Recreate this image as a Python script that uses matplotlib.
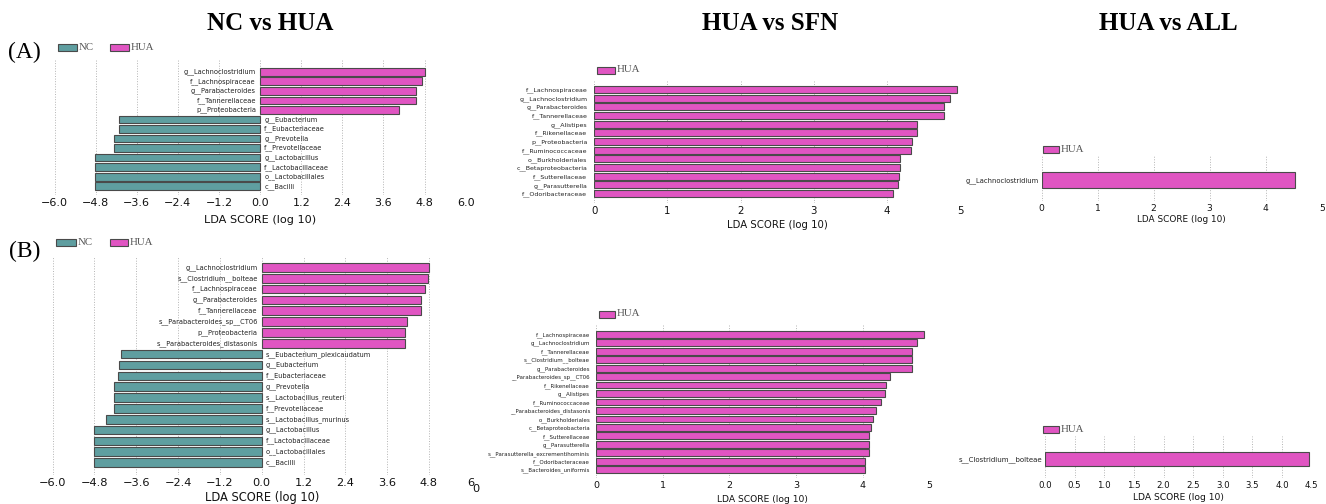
import matplotlib.pyplot as plt
from matplotlib.patches import Rectangle

W, H = 1326, 504
fig = plt.figure(figsize=(W / 100, H / 100), dpi=100)

NC_COLOR = '#5f9ea0'
HUA_COLOR = '#e055c2'
EDGE = '#4a4a4a'
SERIF = 'Liberation Serif'

# LEfSe results, listed top to bottom (negative = enriched in NC)
a_nc_hua_taxa = ['g__Lachnoclostridium', 'f__Lachnospiraceae', 'g__Parabacteroides',
                 'f__Tannerellaceae', 'p__Proteobacteria', 'g__Eubacterium',
                 'f__Eubacteriaceae', 'g__Prevotella', 'f__Prevotellaceae',
                 'g__Lactobacillus', 'f__Lactobacillaceae', 'o__Lactobacillales', 'c__Bacilli']
a_nc_hua_lda = [4.81, 4.72, 4.55, 4.55, 4.06, -4.13, -4.13, -4.25, -4.27,
                -4.81, -4.81, -4.83, -4.83]

a_hua_sfn_taxa = ['f__Lachnospiraceae', 'g__Lachnoclostridium', 'g__Parabacteroides',
                  'f__Tannerellaceae', 'g__Alistipes', 'f__Rikenellaceae',
                  'p__Proteobacteria', 'f__Ruminococcaceae', 'o__Burkholderiales',
                  'c__Betaproteobacteria', 'f__Sutterellaceae', 'g__Parasutterella',
                  'f__Odoribacteraceae']
a_hua_sfn_lda = [4.96, 4.87, 4.78, 4.78, 4.41, 4.41, 4.35, 4.33, 4.18, 4.18, 4.16, 4.15, 4.09]

a_hua_all_taxa = ['g__Lachnoclostridium']
a_hua_all_lda = [4.52]

b_nc_hua_taxa = ['g__Lachnoclostridium', 's__Clostridium__bolteae', 'f__Lachnospiraceae',
                 'g__Parabacteroides', 'f__Tannerellaceae', 's__Parabacteroides_sp__CT06',
                 'p__Proteobacteria', 's__Parabacteroides_distasonis',
                 's__Eubacterium_plexicaudatum', 'g__Eubacterium', 'f__Eubacteriaceae',
                 'g__Prevotella', 's__Lactobacillus_reuteri', 'f__Prevotellaceae',
                 's__Lactobacillus_murinus', 'g__Lactobacillus', 'f__Lactobacillaceae',
                 'o__Lactobacillales', 'c__Bacilli']
b_nc_hua_lda = [4.81, 4.76, 4.70, 4.56, 4.56, 4.17, 4.10, 4.10,
                -4.04, -4.10, -4.11, -4.23, -4.25, -4.25, -4.46, -4.80, -4.80, -4.81, -4.81]

b_hua_sfn_taxa = ['f__Lachnospiraceae', 'g__Lachnoclostridium', 'f__Tannerellaceae',
                  's__Clostridium__bolteae', 'g__Parabacteroides', '__Parabacteroides_sp__CT06',
                  'f__Rikenellaceae', 'g__Alistipes', 'f__Ruminococcaceae',
                  '__Parabacteroides_distasonis', 'o__Burkholderiales', 'c__Betaproteobacteria',
                  'f__Sutterellaceae', 'g__Parasutterella', 's__Parasutterella_excrementihominis',
                  'f__Odoribacteraceae', 's__Bacteroides_uniformis']
b_hua_sfn_lda = [4.92, 4.82, 4.74, 4.74, 4.74, 4.41, 4.35, 4.33, 4.27, 4.20,
                 4.15, 4.13, 4.10, 4.10, 4.09, 4.04, 4.03]

b_hua_all_taxa = ['s__Clostridium__bolteae']
b_hua_all_lda = [4.46]

ticks_two_sided = [-6.0, -4.8, -3.6, -2.4, -1.2, 0.0, 1.2, 2.4, 3.6, 4.8, 6.0]
ticks_int = [0, 1, 2, 3, 4, 5]
ticks_half = [0.0, 0.5, 1.0, 1.5, 2.0, 2.5, 3.0, 3.5, 4.0, 4.5]


def fx(px):
    return px / W


def fy(py):
    return 1 - py / H


def lda_panel(taxa, lda, x0, x1, top, bars, tick_y, xlim, ticks, labels,
              tick_fs, label_fs, xlabel_y, xlabel_fs, pad, two_sided=False):
    # x0/x1: pixel columns of xlim ends; bars: pixel rows of first bar top / last bar bottom
    pad_px = 2.0 * 100 / 72
    bottom = tick_y - pad_px - 0.55 * tick_fs * 100 / 72
    ax = fig.add_axes([fx(x0), fy(bottom), (x1 - x0) / W, (bottom - top) / H])
    n = len(taxa)
    step = (bars[1] - bars[0]) / n
    ypos = [n - 1 - i for i in range(n)]
    colors = [HUA_COLOR if v > 0 else NC_COLOR for v in lda]
    ax.barh(ypos, lda, height=0.8, color=colors, edgecolor=EDGE, linewidth=0.8, zorder=3)
    ax.set_ylim(-0.5 - (bottom - bars[1]) / step, n - 0.5 + (bars[0] - top) / step)
    ax.set_xlim(*xlim)
    ax.set_xticks(ticks)
    ax.set_xticklabels(labels, fontsize=tick_fs)
    for sp in ax.spines.values():
        sp.set_visible(False)
    ax.grid(axis='x', linestyle=':', color='#b4b4b4', linewidth=0.7, zorder=0)
    ax.tick_params(axis='x', length=0, pad=2.0, colors='#111111')
    ax.tick_params(axis='y', length=0, pad=pad)
    if two_sided:
        ax.set_yticks([])
        off = pad * (100 / 72) * (xlim[1] - xlim[0]) / (x1 - x0)
        for y, name, v in zip(ypos, taxa, lda):
            ax.text(-off if v > 0 else off, y, name, ha='right' if v > 0 else 'left',
                    va='center', fontsize=label_fs, color='#222222')
    else:
        ax.set_yticks(ypos)
        ax.set_yticklabels(taxa, fontsize=label_fs, color='#222222')
    fig.text(fx((x0 + x1) / 2), fy(xlabel_y), 'LDA SCORE (log 10)', ha='center',
             va='center', fontsize=xlabel_fs, color='#111111')
    return ax


def legend_key(x, y, w, text, color):
    fig.add_artist(Rectangle((fx(x), fy(y + 3.5)), w / W, 7 / H, transform=fig.transFigure,
                             facecolor=color, edgecolor=EDGE, linewidth=0.8))
    fig.text(fx(x + w + 2), fy(y), text, ha='left', va='center', fontsize=7.8,
             family=SERIF, color='#555555')


def fmt(ticks, digits=1):
    return [f'{t:.{digits}f}'.replace('-', '\u2212') for t in ticks]


# row A
lda_panel(a_nc_hua_taxa, a_nc_hua_lda, 54.5, 465.7, 60, (67, 191), 204,
          (-6, 6), ticks_two_sided, fmt(ticks_two_sided), 8.0, 4.8, 220, 8.1, 3.0,
          two_sided=True)
lda_panel(a_hua_sfn_taxa, a_hua_sfn_lda, 594.3, 960, 81, (85, 198), 211.5,
          (0, 5), ticks_int, [str(t) for t in ticks_int], 7.4, 4.5, 225, 7.3, 5.0)
lda_panel(a_hua_all_taxa, a_hua_all_lda, 1041.7, 1321.7, 156, (170, 189.5), 209,
          (0, 5), ticks_int, [str(t) for t in ticks_int], 6.6, 4.9, 219.5, 6.4, 2.2)

# row B
b_labels = fmt(ticks_two_sided)
b_labels[-1] = '6'
lda_panel(b_nc_hua_taxa, b_nc_hua_lda, 52.6, 470.8, 256, (262, 468), 484,
          (-6, 6), ticks_two_sided, b_labels, 8.2, 4.8, 498, 8.3, 3.0, two_sided=True)
fig.text(fx(476), fy(489), '0', ha='center', va='center', fontsize=8.2, color='#111111')
lda_panel(b_hua_sfn_taxa, b_hua_sfn_lda, 596, 929.3, 325, (330, 474), 486,
          (0, 5), ticks_int, [str(t) for t in ticks_int], 6.8, 4.0, 499, 6.6, 4.3)
lda_panel(b_hua_all_taxa, b_hua_all_lda, 1045, 1311.7, 436, (450, 468), 486,
          (0, 4.5), ticks_half, fmt(ticks_half), 6.2, 5.0, 498, 6.6, 2.0)

# legends
legend_key(58, 47.5, 19, 'NC', NC_COLOR)
legend_key(110, 47.5, 19, 'HUA', HUA_COLOR)
legend_key(56, 242, 20, 'NC', NC_COLOR)
legend_key(110, 242, 18, 'HUA', HUA_COLOR)
legend_key(597, 70, 18, 'HUA', HUA_COLOR)
legend_key(599, 314, 16, 'HUA', HUA_COLOR)
legend_key(1043, 149, 16, 'HUA', HUA_COLOR)
legend_key(1043, 429, 16, 'HUA', HUA_COLOR)

# comparison titles and row tags
for x, title in [(270, 'NC vs HUA'), (770, 'HUA vs SFN'), (1168, 'HUA vs ALL')]:
    fig.text(fx(x), fy(24), title, ha='center', va='center', fontsize=18,
             fontweight='bold', family=SERIF)
fig.text(fx(8), fy(52), '(A)', ha='left', va='center', fontsize=17, family=SERIF)
fig.text(fx(9), fy(251), '(B)', ha='left', va='center', fontsize=17, family=SERIF)

fig.savefig('out.png', dpi=100, facecolor='white')
